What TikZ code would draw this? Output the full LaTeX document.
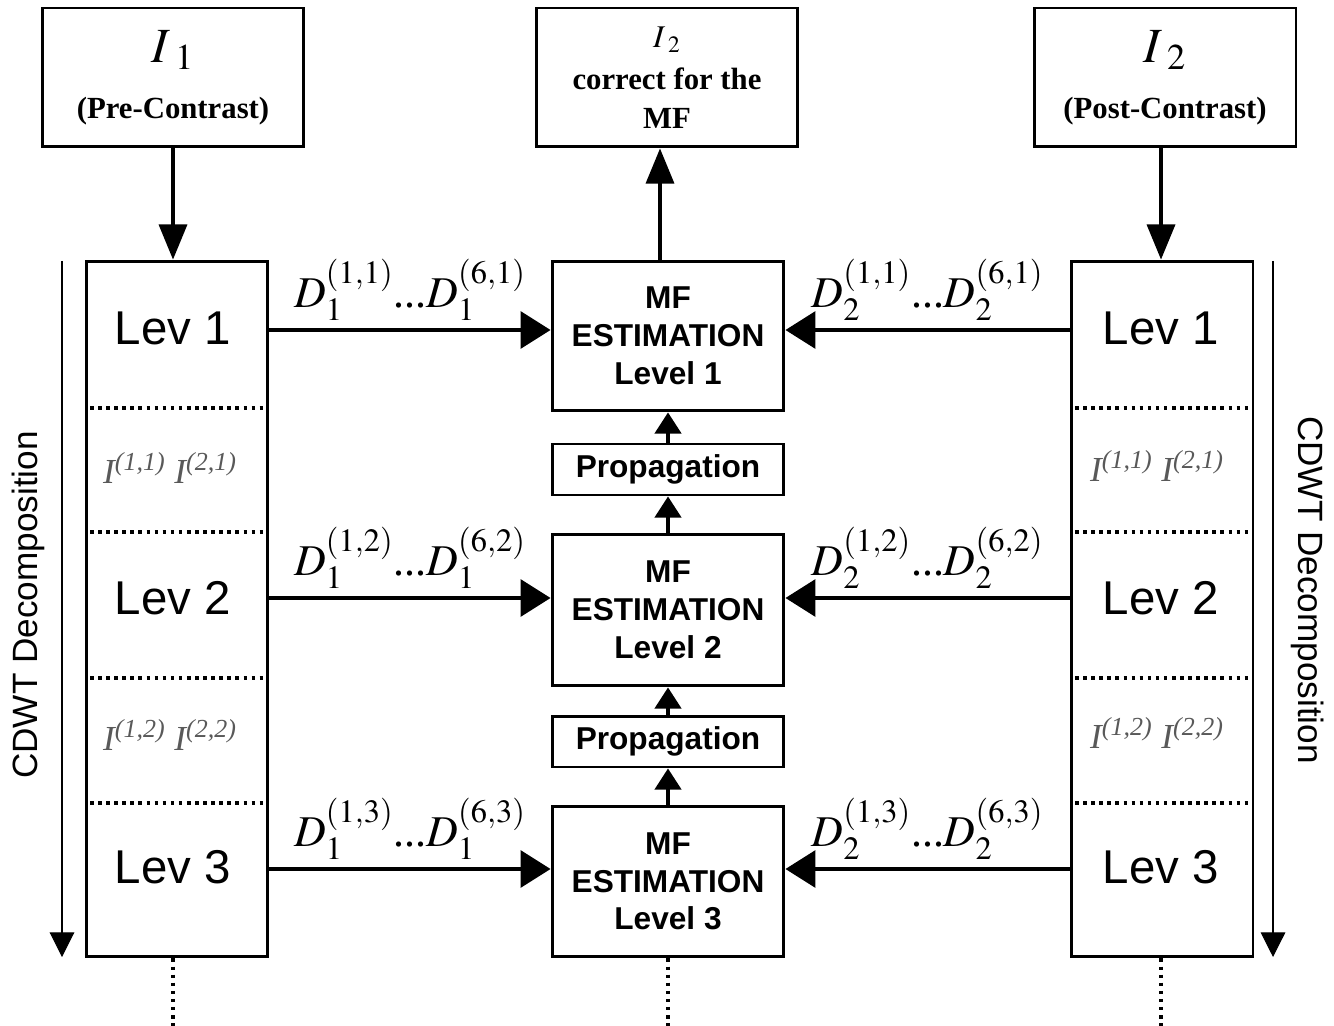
\documentclass[tikz,border=0pt]{standalone}
\usepackage{mathptmx}
\usepackage{fontspec}
\setmainfont{Liberation Serif}
\setsansfont{Liberation Sans}
\usetikzlibrary{arrows.meta}

\tikzset{
	box/.style={draw, line width=1.7pt, inner sep=0pt, align=center},
	topbox/.style={box, minimum width=5.24cm, minimum height=2.78cm, font=\bfseries\fontsize{17.5}{22}\selectfont},
	colbox/.style={box, minimum width=3.64cm, minimum height=13.92cm},
	mfbox/.style={box, minimum width=4.64cm, font=\sffamily\bfseries\fontsize{18}{21.5}\selectfont},
	levtext/.style={font=\sffamily\fontsize{27}{27}\selectfont},
	inttext/.style={text=black!65, font=\itshape\fontsize{20}{20}\selectfont},
	dtext/.style={font=\fontsize{25}{25}\selectfont},
	bigarrow/.style={line width=1.8pt, -{Triangle[length=17pt,width=21pt]}},
	downarrow/.style={line width=1.8pt, -{Triangle[length=20pt,width=16pt]}},
	smallarrow/.style={line width=1.8pt, -{Triangle[length=12pt,width=15pt]}},
	thinarrow/.style={line width=0.6pt, -{Triangle[length=14pt,width=14pt]}},
	dotline/.style={line width=2.2pt, dash pattern=on 2pt off 2.6pt},
}

\begin{document}
\begin{tikzpicture}[x=0.02cm, y=-0.02cm]
		\useasboundingbox (0,0) rectangle (1334,1026);
		
		% Eingangsbilder und Ausgabe
		\node[topbox] (in1) at (173,77.5) {{\fontsize{28}{28}\selectfont$I_{\;1}$}\\[10pt](Pre-Contrast)};
		\node[topbox] (out) at (667,77.5) {{\fontsize{18}{18}\selectfont$I_{\;2}$}\\[2pt]correct for the\\MF};
		\node[topbox] (in2) at (1165,77.5) {{\fontsize{28}{28}\selectfont$I_{\;2}$}\\[10pt](Post-Contrast)};
		
		% Zerlegung links
		\begin{scope}
			\node[colbox] (colL) at (177,609) {};
			\foreach \y in {408,532,678,803}
				\draw[dotline] (90,\y) -- (264,\y);
			\node[levtext] (levL1) at (173,328) {Lev 1};
			\node[inttext] (intL1) at (170,468) {I\textsuperscript{(1,1)} I\textsuperscript{(2,1)}};
			\node[levtext] (levL2) at (173,598) {Lev 2};
			\node[inttext] (intL2) at (170,735) {I\textsuperscript{(1,2)} I\textsuperscript{(2,2)}};
			\node[levtext] (levL3) at (173,867) {Lev 3};
			\coordinate (cdwtLa) at (62,261);
			\coordinate (cdwtLb) at (62,957);
			\draw[thinarrow] (cdwtLa) -- (cdwtLb);
			\node[rotate=90, font=\sffamily\fontsize{20}{20}\selectfont] (cdwtL) at (28,605) {CDWT Decomposition};
		\end{scope}
		
		% Zerlegung rechts
		\begin{scope}
			\node[colbox] (colR) at (1162,609) {};
			\foreach \y in {408,532,678,803}
				\draw[dotline] (1075,\y) -- (1249,\y);
			\node[levtext] (levR1) at (1161,328) {Lev 1};
			\node[inttext] (intR1) at (1157,466) {I\textsuperscript{(1,1)} I\textsuperscript{(2,1)}};
			\node[levtext] (levR2) at (1161,598) {Lev 2};
			\node[inttext] (intR2) at (1157,733) {I\textsuperscript{(1,2)} I\textsuperscript{(2,2)}};
			\node[levtext] (levR3) at (1161,867) {Lev 3};
			\coordinate (cdwtRa) at (1273,261);
			\coordinate (cdwtRb) at (1273,957);
			\draw[thinarrow] (cdwtRa) -- (cdwtRb);
			\node[rotate=-90, font=\sffamily\fontsize{20}{20}\selectfont] (cdwtR) at (1308,590) {CDWT Decomposition};
		\end{scope}
		
		% Schaetzung in der Mitte
		\node[mfbox, minimum height=3.0cm] (mf1) at (668,336) {MF\\ESTIMATION\\Level 1};
		\node[mfbox, minimum height=1.02cm] (prop1) at (668,469.5) {Propagation};
		\node[mfbox, minimum height=3.04cm] (mf2) at (668,610) {MF\\ESTIMATION\\Level 2};
		\node[mfbox, minimum height=1.02cm] (prop2) at (668,741.5) {Propagation};
		\node[mfbox, minimum height=3.02cm] (mf3) at (668,881.5) {MF\\ESTIMATION\\Level 3};
		
		% Pfeile
		\draw[downarrow] (in1.south) -- (in1.south |- colL.north);
		\draw[downarrow] (in2.south -| levR1) -- (levR1 |- colR.north);
		\draw[downarrow] (mf1.north -| 660,0) -- (out.south -| 660,0);
		\draw[smallarrow] (prop1) -- (mf1);
		\draw[smallarrow] (mf2) -- (prop1);
		\draw[smallarrow] (prop2) -- (mf2);
		\draw[smallarrow] (mf3) -- (prop2);
		
		\draw[bigarrow] (colL.east |- 0,330) -- (mf1.west |- 0,330) node[dtext, midway, above=1pt] {$D_1^{(1,1)}\mbox{...}D_1^{(6,1)}$};
		\draw[bigarrow] (colL.east |- 0,598) -- (mf2.west |- 0,598) node[dtext, midway, above=1pt] {$D_1^{(1,2)}\mbox{...}D_1^{(6,2)}$};
		\draw[bigarrow] (colL.east |- 0,869) -- (mf3.west |- 0,869) node[dtext, midway, above=1pt] {$D_1^{(1,3)}\mbox{...}D_1^{(6,3)}$};
		\draw[bigarrow] (colR.west |- 0,330) -- (mf1.east |- 0,330) node[dtext, midway, above=1pt] {$D_2^{(1,1)}\mbox{...}D_2^{(6,1)}$};
		\draw[bigarrow] (colR.west |- 0,598) -- (mf2.east |- 0,598) node[dtext, midway, above=1pt] {$D_2^{(1,2)}\mbox{...}D_2^{(6,2)}$};
		\draw[bigarrow] (colR.west |- 0,869) -- (mf3.east |- 0,869) node[dtext, midway, above=1pt] {$D_2^{(1,3)}\mbox{...}D_2^{(6,3)}$};
		
		% Fortsetzung nach unten
		\coordinate (endL) at (173,1026);
		\coordinate (endM) at (668,1026);
		\coordinate (endR) at (1161,1026);
		\draw[dotline] (colL.south -| endL) -- (endL);
		\draw[dotline] (mf3.south) -- (endM);
		\draw[dotline] (colR.south -| endR) -- (endR);
	\end{tikzpicture}
\end{document}
